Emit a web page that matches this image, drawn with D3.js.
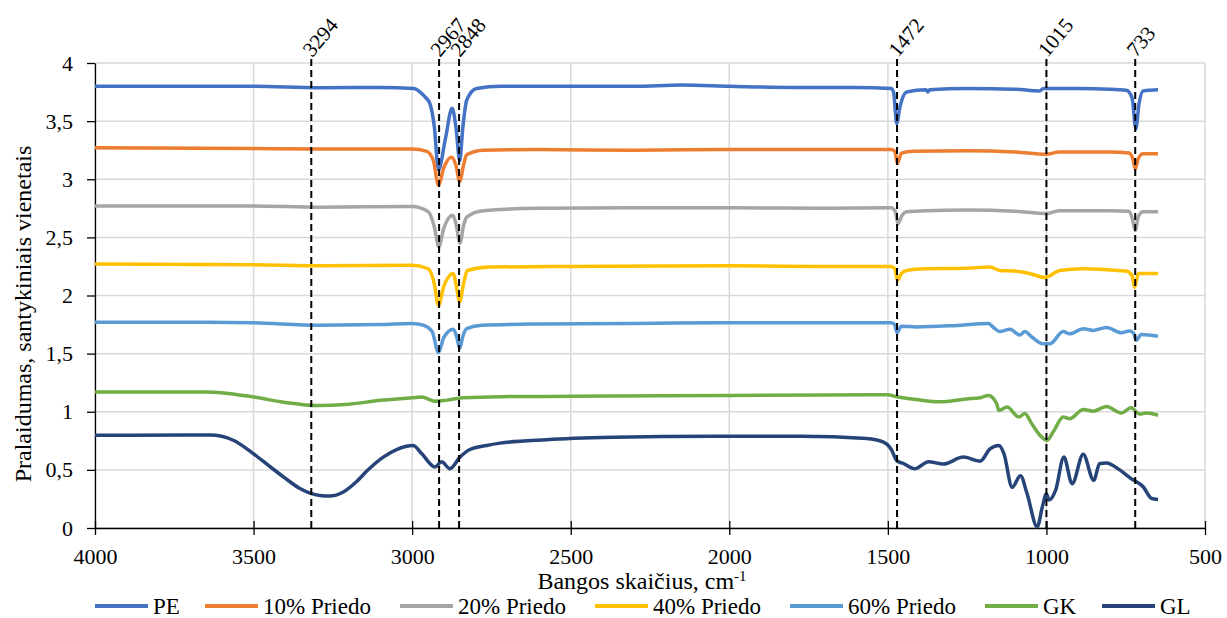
<!DOCTYPE html>
<html lang="lt">
  <head>
    <meta charset="UTF-8">
    <script type="text/javascript" src="https://cdn.jsdelivr.net/npm/d3@7/dist/d3.min.js"></script>
    <style>
      body { margin: 0; background: #fff; }
      svg text, svg tspan { font-family: 'Liberation Serif', serif !important; }
      .grid line { stroke: #d9d9d9; stroke-width: 1.5; }
      .axis path, .axis line { stroke: #000; stroke-width: 1.3; }
    </style>
    <title>FTIR</title>
  </head>
  <body>
    <script type="text/javascript">
      // Spectra: [wavenumber cm-1, value]
      let PE = [[4000,3.80],[3700,3.80],[3500,3.80],[3294,3.787],[3100,3.79],[2995,3.78],[2975,3.75],[2960,3.71],[2944,3.65],[2930,3.45],[2917,3.08],[2895,3.35],[2874,3.61],[2862,3.45],[2850,3.16],[2840,3.45],[2828,3.68],[2797,3.78],[2720,3.80],[2500,3.80],[2300,3.80],[2150,3.81],[2000,3.80],[1800,3.79],[1600,3.79],[1490,3.78],[1482,3.75],[1472,3.48],[1462,3.62],[1441,3.75],[1380,3.77],[1374,3.75],[1368,3.77],[1250,3.78],[1100,3.775],[1021,3.76],[1010,3.78],[900,3.78],[800,3.775],[748,3.765],[730,3.70],[718,3.435],[708,3.65],[695,3.76],[648,3.77]];
      let P10 = [[4000,3.27],[3500,3.265],[3294,3.26],[3000,3.26],[2954,3.24],[2933,3.16],[2917,2.95],[2900,3.10],[2876,3.19],[2862,3.12],[2850,2.98],[2838,3.12],[2828,3.21],[2776,3.25],[2600,3.255],[2300,3.25],[2000,3.255],[1700,3.255],[1490,3.255],[1478,3.24],[1470,3.135],[1457,3.225],[1420,3.24],[1250,3.245],[1100,3.235],[1000,3.215],[960,3.235],[800,3.235],[740,3.225],[728,3.18],[720,3.09],[710,3.18],[695,3.22],[648,3.22]];
      let P20 = [[4000,2.77],[3500,2.77],[3294,2.76],[3000,2.765],[2949,2.72],[2930,2.59],[2916,2.42],[2900,2.58],[2872,2.69],[2862,2.62],[2849,2.45],[2838,2.60],[2828,2.675],[2776,2.73],[2600,2.75],[2300,2.755],[2000,2.755],[1700,2.75],[1490,2.755],[1478,2.73],[1468,2.62],[1455,2.69],[1441,2.72],[1380,2.73],[1250,2.735],[1100,2.725],[1000,2.705],[960,2.73],[800,2.73],[740,2.725],[728,2.65],[720,2.56],[710,2.68],[695,2.72],[648,2.72]];
      let P40 = [[4000,2.27],[3500,2.265],[3294,2.255],[3000,2.26],[2949,2.23],[2930,2.10],[2917,1.915],[2900,2.08],[2870,2.19],[2862,2.10],[2850,1.945],[2838,2.10],[2826,2.215],[2755,2.245],[2500,2.25],[2000,2.255],[1700,2.25],[1490,2.25],[1478,2.23],[1470,2.13],[1457,2.19],[1441,2.215],[1380,2.23],[1250,2.235],[1178,2.245],[1147,2.215],[1100,2.21],[1053,2.19],[1005,2.155],[958,2.215],[885,2.23],[800,2.22],[748,2.21],[730,2.17],[722,2.07],[710,2.19],[648,2.19]];
      let P60 = [[4000,1.77],[3650,1.77],[3500,1.765],[3294,1.745],[3100,1.75],[3000,1.76],[2965,1.745],[2937,1.69],[2917,1.51],[2900,1.64],[2870,1.71],[2860,1.65],[2850,1.545],[2840,1.65],[2828,1.715],[2780,1.745],[2600,1.755],[2300,1.76],[2000,1.765],[1700,1.765],[1490,1.765],[1479,1.75],[1471,1.68],[1458,1.735],[1410,1.73],[1300,1.74],[1183,1.76],[1165,1.72],[1147,1.69],[1115,1.71],[1084,1.66],[1068,1.69],[1047,1.645],[1011,1.585],[989,1.585],[947,1.69],[926,1.67],[884,1.715],[853,1.70],[811,1.725],[764,1.68],[738,1.695],[726,1.68],[717,1.615],[701,1.665],[648,1.65]];
      let GK = [[4000,1.17],[3650,1.17],[3500,1.127],[3400,1.08],[3300,1.053],[3200,1.065],[3100,1.098],[3000,1.12],[2970,1.127],[2950,1.11],[2928,1.09],[2890,1.10],[2840,1.12],[2720,1.13],[2500,1.133],[2000,1.14],[1700,1.145],[1500,1.147],[1478,1.133],[1410,1.105],[1336,1.085],[1252,1.11],[1209,1.12],[1183,1.14],[1157,1.07],[1150,1.01],[1124,1.04],[1087,0.955],[1068,0.985],[1047,0.90],[1021,0.80],[998,0.755],[979,0.825],[947,0.955],[926,0.94],[884,1.02],[853,1.005],[811,1.045],[764,0.99],[733,1.035],[706,0.98],[685,0.99],[648,0.97]];
      let GL = [[4000,0.797],[3700,0.80],[3637,0.80],[3564,0.755],[3501,0.64],[3454,0.54],[3406,0.44],[3354,0.34],[3291,0.28],[3259,0.275],[3217,0.31],[3175,0.40],[3143,0.49],[3091,0.61],[3049,0.675],[2997,0.71],[2970,0.64],[2928,0.525],[2907,0.57],[2881,0.51],[2849,0.61],[2818,0.675],[2765,0.71],[2723,0.73],[2576,0.76],[2366,0.78],[2051,0.79],[1777,0.79],[1567,0.77],[1515,0.74],[1488,0.67],[1472,0.58],[1451,0.555],[1414,0.51],[1372,0.57],[1325,0.55],[1262,0.61],[1209,0.575],[1178,0.68],[1150,0.71],[1134,0.64],[1108,0.35],[1082,0.45],[1061,0.295],[1029,0.01],[1013,0.18],[1000,0.295],[992,0.24],[971,0.325],[945,0.61],[919,0.38],[884,0.635],[851,0.41],[832,0.555],[811,0.56],[769,0.50],[733,0.425],[695,0.355],[669,0.255],[648,0.245]];

      let seriesNames = ['PE', '10% Priedo', '20% Priedo', '40% Priedo', '60% Priedo', 'GK', 'GL'];
      let seriesData = [PE, P10, P20, P40, P60, GK, GL];
      let colors = ['#4472C4', '#ED7D31', '#A5A5A5', '#FFC000', '#5B9BD5', '#70AD47', '#264478'];

      // marker lines: where they sit on the axis, and the text written on them
      let markPos = [3318, 2915, 2852, 1471, 1000, 720];
      let markLabels = ['3294', '2967', '2848', '1472', '1015', '733'];

      let xTicks = [4000, 3500, 3000, 2500, 2000, 1500, 1000, 500];
      let yTicks = [0, 0.5, 1, 1.5, 2, 2.5, 3, 3.5, 4];

      let w = 1227;
      let h = 618;
      let m = {left: 95, right: 22, top: 63, bottom: 90};
      let font = "'Liberation Serif', serif";
      let legendX = [95, 205, 400, 595, 790, 985, 1102];

      let xScale = d3.scaleLinear().domain([4000, 500]).range([m.left, w - m.right]);
      let yScale = d3.scaleLinear().domain([0, 4]).range([h - m.bottom, m.top]);

      let svg = d3.select('body').append('svg')
          .attr('width', w).attr('height', h);

      // gridlines
      let grid = svg.append('g').attr('class', 'grid');
      grid.selectAll('.gx').data(xTicks).enter().append('line')
          .attr('x1', d => xScale(d)).attr('x2', d => xScale(d))
          .attr('y1', yScale(0)).attr('y2', yScale(4));
      grid.selectAll('.gy').data(yTicks).enter().append('line')
          .attr('x1', xScale(4000)).attr('x2', xScale(500))
          .attr('y1', d => yScale(d)).attr('y2', d => yScale(d));

      let fmt = d => String(d).replace('.', ',');

      let xAxis = d3.axisBottom(xScale).tickValues(xTicks).tickFormat(d => String(d))
          .tickSize(7).tickPadding(13).tickSizeOuter(0);
      let yAxis = d3.axisLeft(yScale).tickValues(yTicks).tickFormat(fmt)
          .tickSize(8).tickPadding(14).tickSizeOuter(0);

      let gx = svg.append('g')
          .attr('class', 'x axis')
          .attr('transform', 'translate(0,' + yScale(0) + ')')
          .call(xAxis);
      gx.selectAll('.tick line').attr('y1', -7);

      svg.append('g')
          .attr('class', 'y axis')
          .attr('transform', 'translate(' + m.left + ',0)')
          .call(yAxis);

      // spectra
      let line = d3.line()
          .x(d => xScale(d[0]))
          .y(d => yScale(d[1]))
          .curve(d3.curveMonotoneX);

      svg.selectAll('.spec')
          .data(seriesData)
          .enter()
          .append('path')
          .attr('class', 'spec')
          .attr('d', line)
          .attr('fill', 'none')
          .attr('stroke', (d, i) => colors[i])
          .attr('stroke-width', 3.5)
          .attr('stroke-linejoin', 'round');

      // dashed marker lines
      let marks = svg.selectAll('.mark')
          .data(markPos)
          .enter()
          .append('g')
          .attr('class', 'mark');
      marks.append('line')
          .attr('x1', d => xScale(d)).attr('x2', d => xScale(d))
          .attr('y1', yScale(4) - 4).attr('y2', yScale(0) + 2)
          .attr('stroke', '#000')
          .attr('stroke-width', 2)
          .attr('stroke-dasharray', '7,4');
      marks.append('text')
          .attr('class', 'mlabel')
          .attr('transform', d => 'translate(' + (xScale(d) + 1) + ',' + (yScale(4) - 5) + ') rotate(-50)')
          .text((d, i) => markLabels[i]);

      // axis titles
      svg.append('text')
          .attr('class', 'title')
          .attr('transform', 'translate(31,314) rotate(-90)')
          .attr('text-anchor', 'middle')
          .text('Pralaidumas, santykiniais vienetais');

      let xt = svg.append('text')
          .attr('class', 'title')
          .attr('x', 642).attr('y', 589)
          .attr('text-anchor', 'middle');
      xt.append('tspan').text('Bangos skaičius, cm');
      xt.append('tspan').attr('class', 'sup').attr('dy', -8).text('-1');

      // legend
      let ly = 606;
      seriesNames.forEach((name, i) => {
        svg.append('line')
            .attr('x1', legendX[i]).attr('x2', legendX[i] + 53)
            .attr('y1', ly).attr('y2', ly)
            .attr('stroke', colors[i])
            .attr('stroke-width', 4);
        svg.append('text')
            .attr('class', 'legend')
            .attr('x', legendX[i] + 58).attr('y', ly + 8)
            .text(name);
      });

      // face, size and fill set on every text itself
      svg.selectAll('.axis').attr('font-family', null).attr('font-size', null);
      svg.selectAll('text, tspan')
          .style('font-family', font, 'important')
          .attr('fill', '#000');
      svg.selectAll('.axis text').style('font-size', '22px', 'important');
      svg.selectAll('.mlabel').style('font-size', '21px', 'important');
      svg.selectAll('.title').style('font-size', '24px', 'important');
      svg.selectAll('.legend').style('font-size', '23px', 'important');
      svg.selectAll('.sup').style('font-size', '15px', 'important');
    </script>
  </body>
</html>
